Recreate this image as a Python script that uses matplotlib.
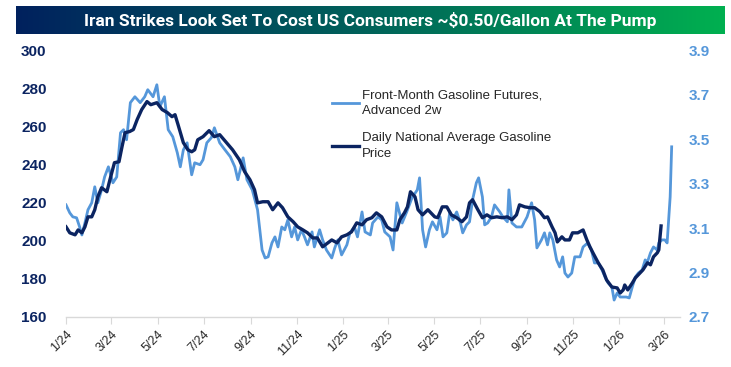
import matplotlib
matplotlib.use("Agg")
import matplotlib.pyplot as plt
import numpy as np
import pandas as pd
from matplotlib.colors import LinearSegmentedColormap

# ---------------- data ----------------
fut_dates = [
    "2024-01-01", "2024-01-06", "2024-01-10", "2024-01-15", "2024-01-19", "2024-01-22", "2024-01-26", "2024-01-30",
    "2024-02-04", "2024-02-08", "2024-02-12", "2024-02-17", "2024-02-21", "2024-02-26", "2024-03-03", "2024-03-08",
    "2024-03-13", "2024-03-17", "2024-03-21", "2024-03-26", "2024-04-01", "2024-04-08", "2024-04-14", "2024-04-18",
    "2024-04-25", "2024-04-30", "2024-05-04", "2024-05-10", "2024-05-15", "2024-05-21", "2024-05-27", "2024-05-31",
    "2024-06-04", "2024-06-09", "2024-06-15", "2024-06-19", "2024-06-26", "2024-06-30", "2024-07-05", "2024-07-11",
    "2024-07-15", "2024-07-22", "2024-07-29", "2024-08-05", "2024-08-11", "2024-08-15", "2024-08-22", "2024-08-27",
    "2024-09-03", "2024-09-10", "2024-09-16", "2024-09-20", "2024-09-24", "2024-09-29", "2024-10-03", "2024-10-07",
    "2024-10-12", "2024-10-16", "2024-10-20", "2024-10-25", "2024-10-29", "2024-11-02", "2024-11-07", "2024-11-11",
    "2024-11-15", "2024-11-21", "2024-11-24", "2024-12-01", "2024-12-05", "2024-12-10", "2024-12-17", "2024-12-21",
    "2024-12-25", "2024-12-30", "2025-01-06", "2025-01-10", "2025-01-16", "2025-01-20", "2025-01-26", "2025-01-30",
    "2025-02-06", "2025-02-09", "2025-02-16", "2025-02-21", "2025-02-25", "2025-03-04", "2025-03-08", "2025-03-13",
    "2025-03-20", "2025-03-26", "2025-04-02", "2025-04-09", "2025-04-12", "2025-04-16", "2025-04-20", "2025-04-25",
    "2025-04-29", "2025-05-05", "2025-05-09", "2025-05-13", "2025-05-18", "2025-05-22", "2025-05-26", "2025-05-31",
    "2025-06-05", "2025-06-08", "2025-06-13", "2025-06-17", "2025-06-21", "2025-06-26", "2025-06-29", "2025-07-04",
    "2025-07-07", "2025-07-11", "2025-07-16", "2025-07-20", "2025-07-27", "2025-07-31", "2025-08-06", "2025-08-08",
    "2025-08-12", "2025-08-18", "2025-08-25", "2025-09-01", "2025-09-07", "2025-09-11", "2025-09-14", "2025-09-20",
    "2025-09-24", "2025-09-28", "2025-10-01", "2025-10-05", "2025-10-10", "2025-10-14", "2025-10-18", "2025-10-21",
    "2025-10-25", "2025-10-30", "2025-11-03", "2025-11-10", "2025-11-14", "2025-11-20", "2025-11-25", "2025-11-29",
    "2025-12-04", "2025-12-09", "2025-12-13", "2025-12-17", "2025-12-22", "2025-12-25", "2025-12-29", "2026-01-02",
    "2026-01-06", "2026-01-10", "2026-01-14", "2026-01-18", "2026-01-22", "2026-01-26", "2026-01-31", "2026-02-04",
    "2026-02-07", "2026-02-11", "2026-02-15", "2026-02-20", "2026-02-22", "2026-02-26", "2026-03-02", "2026-03-05",
    "2026-03-09", "2026-03-11",
]
fut_values = [  # cents / gallon (left axis)
    218.9, 214.7, 212.6, 212.1, 207.3, 203.1, 209.4, 216.3,
    220.0, 228.4, 220.0, 226.8, 233.6, 238.9, 230.5, 233.6,
    256.8, 258.4, 253.1, 272.6, 275.7, 272.6, 275.7, 279.4,
    275.7, 282.0, 270.5, 275.7, 258.4, 254.7, 246.3, 238.9,
    247.8, 251.5, 234.7, 241.0, 240.0, 242.6, 251.5, 254.2,
    259.4, 251.5, 247.8, 244.2, 238.9, 232.1, 243.6, 232.1,
    226.8, 216.3, 195.2, 191.0, 191.6, 198.9, 202.1, 196.8,
    207.3, 205.8, 211.0, 202.1, 207.3, 200.5, 205.8, 202.1,
    197.9, 204.7, 196.8, 205.8, 200.5, 195.2, 191.0, 196.3,
    200.5, 192.6, 197.9, 204.2, 207.3, 202.1, 215.2, 204.7,
    203.1, 209.4, 212.6, 211.0, 204.7, 202.1, 195.2, 220.0,
    209.4, 215.2, 222.6, 226.8, 233.1, 205.8, 196.8, 205.8,
    210.0, 205.8, 212.6, 202.1, 204.2, 215.2, 211.0, 215.2,
    209.4, 204.2, 208.4, 210.0, 221.5, 230.5, 233.1, 223.1,
    208.4, 209.4, 212.6, 218.9, 215.2, 212.6, 210.0, 226.8,
    209.4, 207.3, 207.3, 212.6, 220.0, 211.0, 196.3, 200.5,
    204.2, 197.9, 204.2, 200.5, 190.0, 186.3, 191.6, 183.1,
    181.0, 183.1, 191.6, 191.6, 196.8, 198.9, 195.2, 188.4,
    188.4, 184.7, 181.0, 177.9, 175.8, 168.9, 172.6, 170.5,
    170.5, 170.5, 170.0, 175.8, 181.0, 183.1, 184.7, 190.0,
    188.9, 193.7, 196.8, 195.2, 198.9, 200.5, 200.5, 198.9,
    223.1, 249.4,
]

ret_dates = [
    "2024-01-01", "2024-01-06", "2024-01-13", "2024-01-17", "2024-01-22", "2024-01-26", "2024-01-30", "2024-02-04",
    "2024-02-08", "2024-02-12", "2024-02-17", "2024-02-24", "2024-02-28", "2024-03-05", "2024-03-11", "2024-03-15",
    "2024-03-19", "2024-03-25", "2024-03-30", "2024-04-04", "2024-04-10", "2024-04-17", "2024-04-22", "2024-04-30",
    "2024-05-07", "2024-05-14", "2024-05-20", "2024-05-24", "2024-05-28", "2024-06-04", "2024-06-10", "2024-06-15",
    "2024-06-19", "2024-06-23", "2024-06-30", "2024-07-08", "2024-07-15", "2024-07-22", "2024-07-31", "2024-08-08",
    "2024-08-17", "2024-08-24", "2024-08-31", "2024-09-06", "2024-09-10", "2024-09-17", "2024-09-24", "2024-09-30",
    "2024-10-07", "2024-10-13", "2024-10-20", "2024-10-27", "2024-11-02", "2024-11-09", "2024-11-15", "2024-11-22",
    "2024-11-28", "2024-12-05", "2024-12-12", "2024-12-17", "2024-12-24", "2024-12-30", "2025-01-06", "2025-01-12",
    "2025-01-19", "2025-01-26", "2025-02-01", "2025-02-08", "2025-02-14", "2025-02-21", "2025-02-28", "2025-03-06",
    "2025-03-13", "2025-03-17", "2025-03-23", "2025-03-27", "2025-03-31", "2025-04-06", "2025-04-10", "2025-04-16",
    "2025-04-23", "2025-05-02", "2025-05-06", "2025-05-12", "2025-05-18", "2025-05-24", "2025-05-31", "2025-06-07",
    "2025-06-13", "2025-06-17", "2025-06-21", "2025-06-28", "2025-07-04", "2025-07-10", "2025-07-16", "2025-07-23",
    "2025-07-30", "2025-08-06", "2025-08-12", "2025-08-18", "2025-08-22", "2025-08-29", "2025-09-05", "2025-09-11",
    "2025-09-18", "2025-09-24", "2025-09-28", "2025-10-04", "2025-10-08", "2025-10-11", "2025-10-17", "2025-10-21",
    "2025-10-27", "2025-10-31", "2025-11-07", "2025-11-14", "2025-11-19", "2025-11-23", "2025-11-27", "2025-12-04",
    "2025-12-10", "2025-12-15", "2025-12-22", "2025-12-29", "2026-01-02", "2026-01-06", "2026-01-08", "2026-01-12",
    "2026-01-18", "2026-01-22", "2026-01-28", "2026-02-01", "2026-02-07", "2026-02-11", "2026-02-15", "2026-02-20",
    "2026-02-22", "2026-02-25",
]
ret_values = [  # dollars / gallon (right axis)
    3.106, 3.079, 3.070, 3.092, 3.079, 3.106, 3.151, 3.151,
    3.183, 3.241, 3.282, 3.264, 3.318, 3.395, 3.399, 3.467,
    3.530, 3.535, 3.544, 3.589, 3.634, 3.670, 3.656, 3.665,
    3.634, 3.620, 3.602, 3.611, 3.566, 3.485, 3.453, 3.444,
    3.453, 3.498, 3.512, 3.539, 3.512, 3.521, 3.485, 3.453,
    3.408, 3.354, 3.318, 3.273, 3.214, 3.219, 3.219, 3.183,
    3.214, 3.192, 3.151, 3.129, 3.106, 3.092, 3.079, 3.056,
    3.056, 3.016, 3.034, 3.047, 3.034, 3.061, 3.070, 3.083,
    3.124, 3.115, 3.138, 3.147, 3.169, 3.151, 3.106, 3.092,
    3.092, 3.138, 3.169, 3.196, 3.264, 3.241, 3.183, 3.160,
    3.183, 3.151, 3.147, 3.196, 3.196, 3.160, 3.147, 3.129,
    3.151, 3.214, 3.228, 3.183, 3.147, 3.160, 3.147, 3.151,
    3.147, 3.151, 3.138, 3.160, 3.205, 3.196, 3.192, 3.192,
    3.174, 3.147, 3.151, 3.106, 3.079, 3.038, 3.061, 3.047,
    3.047, 3.079, 3.079, 3.092, 3.047, 3.016, 2.989, 2.944,
    2.912, 2.867, 2.835, 2.831, 2.808, 2.822, 2.844, 2.822,
    2.853, 2.876, 2.898, 2.912, 2.944, 2.935, 2.971, 2.989,
    3.002, 3.110,
]

tick_dates = ["2024-01-01", "2024-03-01", "2024-05-01", "2024-07-01", "2024-09-01", "2024-11-01",
              "2025-01-01", "2025-03-01", "2025-05-01", "2025-07-01", "2025-09-01", "2025-11-01",
              "2026-01-01", "2026-03-01"]
tick_labels = ["1/24", "3/24", "5/24", "7/24", "9/24", "11/24", "1/25", "3/25", "5/25", "7/25",
               "9/25", "11/25", "1/26", "3/26"]
left_ticks = [160, 180, 200, 220, 240, 260, 280, 300]
right_ticks = [2.7, 2.9, 3.1, 3.3, 3.5, 3.7, 3.9]

title = "Iran Strikes Look Set To Cost US Consumers ~$0.50/Gallon At The Pump"
fut_label = "Front-Month Gasoline Futures,\nAdvanced 2w"
ret_label = "Daily National Average Gasoline\nPrice"

# ---------------- style ----------------
NAVY = "#0B2461"
LIGHT = "#5597DA"
GRID = "#D9D9D9"
plt.rcParams["font.family"] = ["Liberation Sans", "DejaVu Sans"]

fig = plt.figure(figsize=(7.31, 3.67), dpi=100)

# title banner with gradient
bax = fig.add_axes([16 / 731, 1 - 34 / 367, 709 / 731, 28 / 367])
cmap = LinearSegmentedColormap.from_list("ban", ["#00215E", "#00635A", "#00B050"])
bax.imshow(np.linspace(0, 1, 256).reshape(1, -1), aspect="auto", cmap=cmap,
           extent=[0, 1, 0, 1])
bax.set_axis_off()
bax.text(0.5, 0.48, title, color="white", fontsize=12.5, fontweight="bold",
         family=["Roboto", "Liberation Sans", "DejaVu Sans"],
         ha="center", va="center", transform=bax.transAxes)

ax = fig.add_axes([66 / 731, 50 / 367, 614 / 731, 266.5 / 367])
ax2 = ax.twinx()

fd = pd.to_datetime(fut_dates)
rd = pd.to_datetime(ret_dates)
l1, = ax.plot(fd, fut_values, color=LIGHT, lw=2.0, solid_joinstyle="round")
l2, = ax2.plot(rd, ret_values, color=NAVY, lw=2.4, solid_joinstyle="round")

ax.set_xlim(pd.Timestamp("2024-01-01"), pd.Timestamp("2026-03-22"))
ax.set_ylim(160, 300)
ax2.set_ylim(2.7, 3.9)
ax.set_yticks(left_ticks)
ax.set_yticklabels([str(v) for v in left_ticks])
ax2.set_yticks(right_ticks)
ax2.set_yticklabels([f"{v:.1f}" for v in right_ticks])

ax.set_xticks(pd.to_datetime(tick_dates))
ax.set_xticklabels(tick_labels, rotation=45, ha="right", rotation_mode="anchor",
                   fontsize=9, color="#262626")

for s in ["top", "left", "right"]:
    ax.spines[s].set_visible(False)
    ax2.spines[s].set_visible(False)
ax2.spines["bottom"].set_visible(False)
ax.spines["bottom"].set_color(GRID)
ax.spines["bottom"].set_linewidth(1.0)

ax.tick_params(axis="x", length=5, color=GRID, pad=3)
ax.tick_params(axis="y", length=0, pad=14, labelcolor=NAVY, labelsize=11)
ax2.tick_params(axis="y", length=0, pad=6, labelcolor=LIGHT, labelsize=11)
for t in ax.get_yticklabels():
    t.set_fontweight("bold")
for t in ax2.get_yticklabels():
    t.set_fontweight("bold")

leg = ax2.legend([l1, l2], [fut_label, ret_label], loc="upper left",
                 bbox_to_anchor=(0.433, 0.855), frameon=False, fontsize=9.5,
                 handlelength=2.05, handletextpad=0.2, borderpad=0,
                 borderaxespad=0, labelspacing=1.1, labelcolor="#262626")
for t in leg.get_texts():
    t.set_linespacing(1.45)

fig.savefig("out.png", dpi=100, facecolor="white")
